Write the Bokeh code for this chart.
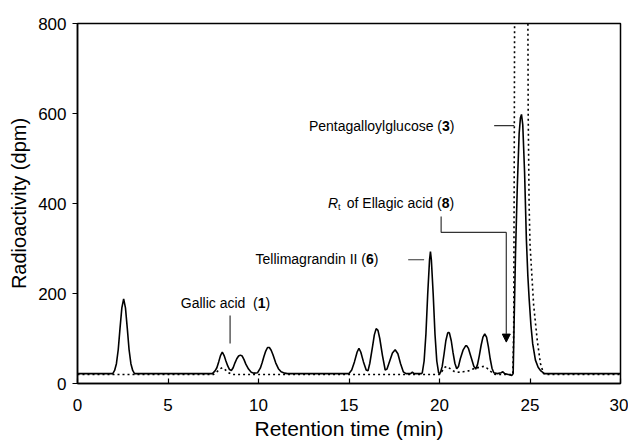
from bokeh.plotting import figure
from bokeh.models import Range1d, Arrow, NormalHead
from bokeh.core.properties import value
from bokeh.embed import file_html
from bokeh.resources import INLINE

# Solid trace (time in min, radioactivity in dpm)
time_solid = [0.0, 1.95, 2.05, 2.15, 2.25, 2.35, 2.45, 2.55, 2.65, 2.75, 2.85, 2.95, 3.05, 3.15,
              7.45, 7.6, 7.7, 7.8, 7.9, 8.0, 8.1, 8.2, 8.3, 8.4, 8.5, 8.6, 8.7, 8.8, 8.9, 9.0, 9.1, 9.2, 9.3, 9.45,
              9.6, 9.75, 9.95, 10.1, 10.2, 10.3, 10.4, 10.5, 10.6, 10.7, 10.8, 10.95, 11.1, 11.25, 11.45, 11.6,
              15.0, 15.15, 15.3, 15.45, 15.55, 15.65, 15.8, 15.95, 16.05, 16.15, 16.3, 16.4, 16.5, 16.6, 16.7,
              16.85, 17.0, 17.1, 17.25, 17.4, 17.55, 17.7, 17.85, 18.0, 18.15, 18.4, 18.5, 18.6, 19.0,
              19.05, 19.15, 19.25, 19.35, 19.45, 19.5, 19.55, 19.65, 19.75, 19.85, 19.95, 20.0,
              20.05, 20.15, 20.25, 20.35, 20.45, 20.5, 20.55, 20.65, 20.75, 20.85, 20.95, 21.05, 21.15, 21.3,
              21.45, 21.5, 21.6, 21.75, 21.9, 22.0, 22.1, 22.2, 22.3, 22.4, 22.5, 22.6, 22.7, 22.8, 22.9, 23.0,
              23.2, 23.4, 23.5, 23.6, 23.8, 24.0, 24.07,
              24.12, 24.2, 24.3, 24.4, 24.47, 24.53, 24.6, 24.7, 24.8, 24.88, 24.95, 25.05, 25.15, 25.3, 25.45,
              25.6, 25.8, 30.0]
dpm_solid = [22, 22, 29, 44, 75, 123, 168, 188, 168, 123, 75, 44, 29, 22,
             22, 28, 35, 48, 62, 70, 62, 50, 39, 31, 29, 35, 46, 55, 61, 63, 61, 53, 43, 32,
             25, 23, 24, 34, 46, 60, 72, 80, 80, 74, 64, 46, 33, 26, 23, 22,
             22, 30, 48, 70, 78, 70, 48, 30, 28, 45, 82, 108, 122, 118, 100,
             62, 30, 32, 50, 68, 75, 66, 44, 26, 22, 22, 25, 22, 22,
             24, 50, 110, 200, 275, 293, 275, 200, 110, 50, 24, 22,
             24, 38, 65, 95, 112, 114, 112, 95, 68, 45, 33, 38, 55, 74,
             84, 84, 78, 58, 38, 32, 42, 62, 85, 103, 110, 103, 82, 55, 34, 24,
             22, 24, 26, 22, 20, 18, 22,
             130, 290, 440, 555, 590, 598, 575, 470, 320, 240, 190, 130, 88, 52, 36,
             28, 22, 22]

# Dotted trace
time_dotted = [0.0, 7.5, 7.7, 7.9, 8.0, 8.15, 8.35, 8.55, 20.0, 20.15, 20.3, 20.4, 20.55, 20.8, 21.0,
               21.3, 21.6, 21.9, 22.2, 22.45, 22.6, 22.8, 23.0, 23.2, 24.05, 24.1, 24.13, 24.16, 24.5,
               24.87, 24.9, 24.95, 25.0, 25.2, 25.4, 25.58, 25.75, 25.85, 30.0]
dpm_dotted = [20, 20, 26, 33, 35, 31, 24, 20, 20, 28, 36, 38, 34, 27, 25,
              26, 28, 33, 36, 38, 35, 28, 21, 20, 20, 120, 500, 1000, 2000,
              1000, 600, 400, 310, 175, 96, 44, 22, 20, 20]

x_ticks = [0, 5, 10, 15, 20, 25, 30]
y_ticks = [0, 200, 400, 600, 800]

FONT = "Liberation Sans"

p = figure(width=628, height=442, x_range=Range1d(0, 30), y_range=Range1d(0, 800),
           output_backend="svg", toolbar_location=None,
           min_border_left=77, min_border_right=8, min_border_top=23, min_border_bottom=59)
p.background_fill_color = "white"
p.border_fill_color = "white"
p.outline_line_color = "black"
p.outline_line_width = 1.5
p.xgrid.visible = False
p.ygrid.visible = False

p.xaxis.ticker = x_ticks
p.yaxis.ticker = y_ticks
p.xaxis.axis_label = "Retention time (min)"
p.yaxis.axis_label = "Radioactivity (dpm)"
for ax in (p.xaxis, p.yaxis):
    ax.axis_line_color = "black"
    ax.axis_line_width = 1.5
    ax.major_tick_line_color = "black"
    ax.major_tick_line_width = 1.2
    ax.minor_tick_line_color = None
    ax.major_label_text_font = FONT
    ax.major_label_text_font_size = "17px"
    ax.major_label_text_color = "black"
    ax.axis_label_text_font = FONT
    ax.axis_label_text_font_style = "normal"
    ax.axis_label_text_color = "black"
p.xaxis.axis_label_text_font_size = "21px"
p.yaxis.axis_label_text_font_size = "20px"
p.xaxis.major_tick_in = 5
p.xaxis.major_tick_out = 0
p.yaxis.major_tick_in = 0
p.yaxis.major_tick_out = 5
p.xaxis.major_label_standoff = 15
p.yaxis.major_label_standoff = 6
p.xaxis.axis_label_standoff = 3
p.yaxis.axis_label_standoff = 5

p.line(time_dotted, dpm_dotted, line_color="black", line_width=1.6, line_dash="2 3")
p.line(time_solid, dpm_solid, line_color="black", line_width=1.6)

ann = "#333333"
# annotation leader lines
p.line([8.43, 8.43], [151, 89], line_color=ann, line_width=1.2)
p.line([18.27, 19.15], [275, 275], line_color=ann, line_width=1.2)
p.line([23.02, 24.13], [573, 573], line_color=ann, line_width=1.2)
p.line([20.09, 20.09, 23.69], [371, 336, 336], line_color=ann, line_width=1.2)
p.add_layout(Arrow(end=NormalHead(size=8, fill_color="black", line_color="black"),
                   x_start=23.69, y_start=336, x_end=23.69, y_end=92,
                   line_color=ann, line_width=1.2))

common = dict(text_font=value(FONT), text_font_size="14px", text_color="black",
              text_baseline="middle")

def compound_label(x, y, head, num):
    p.text([x], [y], text=[head], text_align="right", **common)
    p.text([x], [y], text=[num], text_align="left", text_font_style="bold", **common)
    p.text([x], [y], text=[")"], text_align="left", x_offset=7.8, **common)

compound_label(9.96, 178, "Gallic acid\u00a0\u00a0(", "1")
compound_label(15.94, 276, "Tellimagrandin II (", "6")
compound_label(20.14, 573, "Pentagalloylglucose (", "3")
compound_label(20.12, 402, "of Ellagic acid (", "8")
p.text([13.84], [402], text=["R"], text_align="left", text_font_style="italic", **common)
p.text([13.84], [393], text=["t"], text_align="left", x_offset=10,
       text_font=value(FONT), text_font_size="9px", text_color="black", text_baseline="middle")

open("out.html", "w").write(file_html(p, INLINE))
